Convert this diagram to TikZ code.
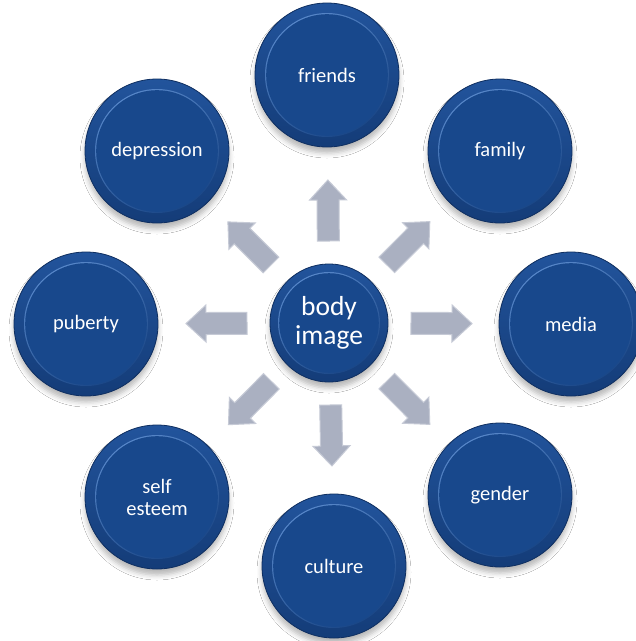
\documentclass[tikz,border=0pt]{standalone}
\usepackage{fontspec}
\setmainfont{Carlito}
\usetikzlibrary{calc,shadows.blur}
\definecolor{bOuterTop}{RGB}{34,84,156}
\definecolor{bOuterBot}{RGB}{20,60,120}
\definecolor{bEdge}{RGB}{14,46,96}
\definecolor{bInner}{RGB}{24,72,140}
\definecolor{bRimL}{RGB}{92,140,206}
\definecolor{bRimR}{RGB}{22,66,130}
\definecolor{arFill}{RGB}{170,176,193}
\definecolor{arEdge}{RGB}{198,202,214}
\begin{document}
\begin{tikzpicture}[x=1pt,y=-1pt,
 disc/.style={circle, inner sep=0pt, top color=bOuterTop, bottom color=bOuterBot,
   draw=bEdge, line width=0.8pt, text=white, align=center,
   blur shadow={shadow xshift=0pt, shadow yshift=-6pt, shadow blur radius=5pt, shadow opacity=28}},
 bubble/.style={disc, minimum size=144pt, font=\fontsize{20.5}{22}\selectfont,
   path picture={\shade[left color=bRimL, right color=bRimR, shading angle=30] (path picture bounding box.center) circle (62pt);
                 \fill[bInner] (path picture bounding box.center) circle (60.8pt);}},
 hub/.style={disc, minimum size=118pt, font=\fontsize{27.5}{29.5}\selectfont,
   path picture={\shade[left color=bRimL, right color=bRimR, shading angle=30] (path picture bounding box.center) circle (51pt);
                 \fill[bInner] (path picture bounding box.center) circle (49.8pt);}},
 barrow/.pic={\filldraw[fill=arFill, draw=arEdge, line width=1pt, line join=miter]
   (0,-11) -- (41,-11) -- (41,-18.5) -- (61,0) -- (41,18.5) -- (41,11) -- (0,11) -- cycle;}
]
\fill[white] (0,0) rectangle (636,641);
\useasboundingbox (0,0) rectangle (636,641);

\node[hub] (c) at (329,323) {body\\image};
\node[bubble] (fr) at (327,75) {friends};
\node[bubble] (fa) at (500,151) {family};
\node[bubble] (me) at (571,324) {media};
\node[bubble] (ge) at (500,495) {gender};
\node[bubble] (cu) at (334,566) {culture};
\node[bubble] (se) at (157,497) {self\\esteem};
\node[bubble] (pu) at (86,324) {puberty};
\node[bubble] (de) at (157,151) {depression};

\foreach \nm in {fr,fa,me,ge,cu,se,pu,de}{
  \path let \p1=($(\nm)-(c)$), \n1={atan2(\y1,\x1)} in
    ($(c)!82pt!(\nm)$) pic[rotate=\n1]{barrow};
}
\end{tikzpicture}
\end{document}
